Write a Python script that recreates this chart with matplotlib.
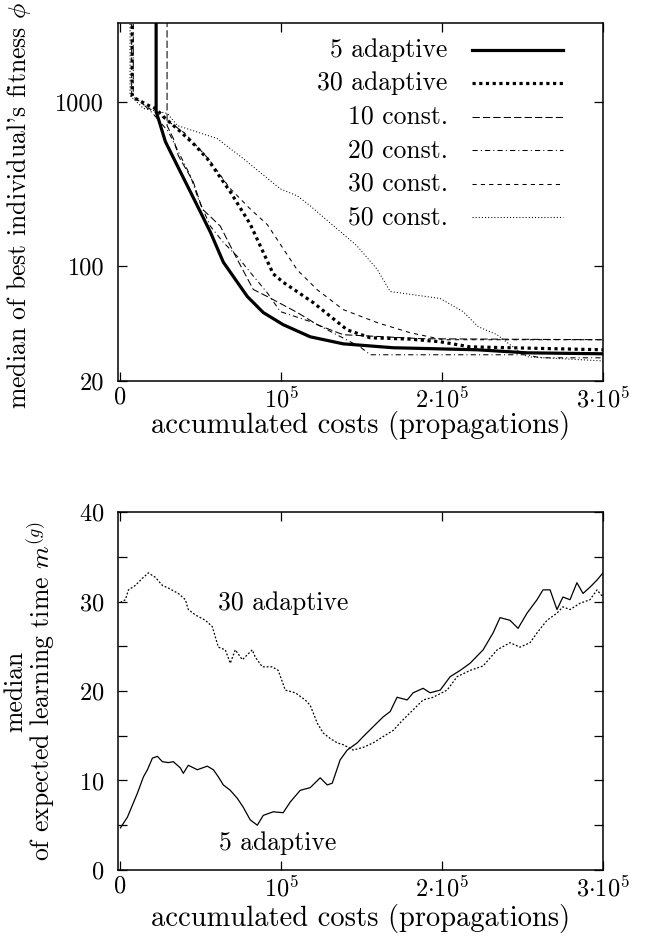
import numpy as np
import matplotlib
matplotlib.use("Agg")
import matplotlib.pyplot as plt
from matplotlib.ticker import FixedLocator, MultipleLocator, NullFormatter

plt.rcParams["font.family"] = "serif"
plt.rcParams["font.serif"] = ["cmr10"]
plt.rcParams["mathtext.fontset"] = "cm"
plt.rcParams["axes.unicode_minus"] = False
plt.rcParams["axes.formatter.use_mathtext"] = True

# --- datos: fitness (panel superior, eje y log) ---
fit_5ad_x = [22200, 22200, 27950, 35400, 43500, 49700, 55900, 64000, 74500, 78900,
             88800, 101200, 118000, 138500, 169600, 221700, 252800, 300000]
fit_5ad_y = [1e4, 881, 577, 411, 285, 215, 162, 106, 75.5, 65.5,
             52.3, 44.1, 37.2, 33.7, 31.9, 31.0, 29.7, 29.3]

fit_30ad_x = [7300, 7300, 9300, 17400, 21700, 27950, 37300, 46600, 54000, 68300, 80700,
              95000, 101200, 110000, 120000, 141000, 155300, 180000, 198800, 217400, 300000]
fit_30ad_y = [1e4, 1105, 1059, 959, 920, 798, 664, 545, 454, 285, 181,
              90, 80, 70, 60, 41, 36.7, 36, 34.7, 32.3, 31.0]

fit_10c_x = [29000, 29000, 33000, 36000, 45300, 50900, 62100, 72700, 82600, 91300,
             110000, 122400, 138500, 188200, 300000]
fit_10c_y = [1e4, 723, 600, 473, 328, 224, 176, 110, 72.3, 65.5,
             52.3, 44.1, 38.3, 36.2, 35.7]

fit_20c_x = [8000, 8000, 13000, 20000, 29800, 36000, 43500, 48400, 55900, 64000, 72700,
             80700, 91300, 99400, 120000, 149000, 155300, 252800, 260900, 300000]
fit_20c_y = [1e4, 1080, 1000, 860, 664, 501, 357, 258, 176, 140, 115,
             92, 69, 53, 45.4, 32.3, 28.9, 28.9, 27.7, 27.7]

fit_30c_x = [7000, 7000, 15000, 24800, 40000, 55000, 68000, 80700, 91300, 110000,
             122400, 138500, 159600, 180100, 200600, 300000]
fit_30c_y = [1e4, 1105, 960, 830, 650, 450, 300, 224, 180, 95,
             72, 54.5, 45.4, 39.4, 35.7, 35.7]

fit_50c_x = [6000, 6000, 14300, 29200, 35400, 60200, 76400, 99400, 110000, 118000,
             147200, 159600, 167700, 198800, 213000, 222400, 234200, 242200, 252800, 300000]
fit_50c_y = [1e4, 1100, 920, 857, 723, 602, 454, 297, 269, 234,
             133, 96, 70.3, 63.7, 53, 42.9, 38.3, 33.3, 28.1, 26.5]

# --- datos: tiempo de aprendizaje (panel inferior) ---
lt_5ad_x = [0, 4350, 10600, 14300, 16800, 19900, 23000, 26100, 29800, 32900, 37300, 39100,
            42200, 47800, 54000, 57800, 60900, 64000, 68300, 72700, 76400, 80700, 85100,
            88800, 95000, 101200, 105600, 111800, 118000, 124200, 128600, 131700, 136600,
            141000, 147200, 150900, 157100, 163300, 167700, 172000, 178300, 182000, 188200,
            192500, 198800, 205000, 211200, 217400, 221700, 225500, 231700, 236000, 242200,
            247200, 252800, 259000, 262700, 267100, 271400, 275100, 279500, 283800, 287600,
            291900, 296300, 300000]
lt_5ad_y = [4.7, 5.9, 8.6, 10.4, 11.2, 12.5, 12.7, 12.1, 12.0, 12.1, 11.4, 10.8,
            11.7, 11.2, 11.6, 11.2, 10.4, 9.5, 8.9, 8.0, 7.0, 5.6, 5.0,
            6.1, 6.5, 6.4, 7.6, 8.9, 9.2, 10.3, 9.5, 9.7, 12.3,
            13.4, 14.2, 14.9, 16.0, 17.1, 17.7, 19.3, 19.0, 19.8, 20.3,
            19.8, 20.1, 21.6, 22.3, 23.1, 23.9, 24.6, 26.5, 28.2, 27.9,
            27.0, 28.7, 30.2, 31.3, 31.3, 29.1, 30.5, 30.2, 32.1, 30.9,
            31.6, 32.4, 33.2]

lt_30ad_x = [0, 3100, 5000, 9300, 13700, 17400, 21700, 26100, 29800, 36000, 40400, 42200,
             46600, 52800, 57100, 60900, 65200, 68300, 71400, 75800, 82000, 83800, 88200,
             94400, 98100, 102500, 108700, 114900, 118000, 122400, 126100, 130400, 134800,
             138500, 144700, 150900, 157100, 163300, 169600, 175800, 182000, 188200, 194400,
             203100, 209300, 217400, 225500, 234200, 242200, 248400, 254700, 259000, 265200,
             271400, 275100, 279500, 285700, 291900, 296300, 300000]
lt_30ad_y = [29.9, 30.2, 31.3, 31.8, 32.6, 33.2, 32.7, 31.8, 31.5, 30.9, 30.2, 29.1,
             28.5, 27.9, 27.2, 24.9, 24.6, 23.1, 24.6, 23.5, 24.6, 23.8, 22.7,
             22.7, 22.3, 20.1, 19.8, 19.0, 18.4, 16.4, 15.3, 14.7, 14.2,
             14.0, 13.4, 13.7, 14.2, 14.9, 15.6, 16.8, 17.9, 19.0, 19.3,
             20.1, 21.6, 22.3, 22.8, 24.6, 25.4, 24.9, 25.4, 26.5, 27.9,
             28.7, 29.4, 29.1, 29.8, 30.2, 31.3, 30.5]

x_ticks = [0, 1e5, 2e5, 3e5]
x_ticklabels = ["0", r"$10^5$", r"$2{\cdot}10^5$", r"$3{\cdot}10^5$"]
fit_yticks = [20, 100, 1000]
lt_yticks = [0, 10, 20, 30, 40]

FS = 18.5   # textos
FX = 20.5   # etiqueta eje x
FT = 17.5   # etiquetas de ticks

fig = plt.figure(figsize=(6.53, 9.40), dpi=100)
ax1 = fig.add_axes([0.1807, 0.5947, 0.7427, 0.3808])
ax2 = fig.add_axes([0.1807, 0.0745, 0.7427, 0.3808])

for ax in (ax1, ax2):
    for sp in ax.spines.values():
        sp.set_linewidth(1.1)
    ax.tick_params(which="both", direction="in", top=True, right=True,
                   length=6.5, width=0.9, labelsize=FT)
    ax.tick_params(axis="x", pad=4)
    ax.tick_params(axis="y", pad=10)
    ax.set_xlim(-1500, 3e5)
    ax.set_xticks(x_ticks)
    ax.set_xticklabels(x_ticklabels)
    ax.set_xlabel("accumulated costs (propagations)", fontsize=FX)

ax1.xaxis.set_label_coords(0.5, -0.085)
ax2.xaxis.set_label_coords(0.5, -0.095)

# --- panel superior ---
estilos = [
    ("5 adaptive", fit_5ad_x, fit_5ad_y, dict(lw=2.3, ls="-")),
    ("30 adaptive", fit_30ad_x, fit_30ad_y, dict(lw=2.3, ls=(0, (1, 1.1)))),
    ("10 const.", fit_10c_x, fit_10c_y, dict(lw=0.75, ls=(0, (7, 3)))),
    ("20 const.", fit_20c_x, fit_20c_y, dict(lw=0.75, ls=(0, (5, 3, 1, 3)))),
    ("30 const.", fit_30c_x, fit_30c_y, dict(lw=0.75, ls=(0, (4, 4)))),
    ("50 const.", fit_50c_x, fit_50c_y, dict(lw=0.75, ls=(0, (1, 2)))),
]
for i, (lab, xs, ys, st) in enumerate(estilos):
    ax1.plot(xs, ys, color="black", dash_capstyle="butt", **st)
    # leyenda estilo gnuplot: texto alineado a la derecha, muestra a la derecha
    yl = 0.925 - i * 0.0936
    ax1.text(0.68, yl, lab, transform=ax1.transAxes, ha="right", va="center", fontsize=FS)
    ax1.plot([0.73, 0.918], [yl, yl], transform=ax1.transAxes, color="black",
             dash_capstyle="butt", **st)

ax1.set_yscale("log")
ax1.set_ylim(20, 3050)
ax1.yaxis.set_major_locator(FixedLocator(fit_yticks))
ax1.yaxis.set_minor_locator(FixedLocator([]))
ax1.set_yticklabels([str(v) for v in fit_yticks])
ax1.yaxis.set_minor_formatter(NullFormatter())
ax1.set_ylabel(r"median of best individual's fitness $\phi$", fontsize=FS)
ax1.yaxis.set_label_coords(-0.175, 0.49)

# --- panel inferior ---
ax2.plot(lt_5ad_x, lt_5ad_y, color="black", lw=0.9)
ax2.plot(lt_30ad_x, lt_30ad_y, color="black", lw=0.9, ls=(0, (1.5, 1.5)))
ax2.set_ylim(0, 40)
ax2.set_yticks(lt_yticks)
ax2.yaxis.set_minor_locator(MultipleLocator(5))
ax2.set_ylabel("median\n" + r"of expected learning time $m^{(g)}$", fontsize=FS,
               linespacing=0.9)
ax2.yaxis.set_label_coords(-0.125, 0.5)
ax2.text(101000, 29.8, "30 adaptive", fontsize=FS, ha="center", va="center")
ax2.text(97500, 3.0, "5 adaptive", fontsize=FS, ha="center", va="center")

fig.savefig("out.png", dpi=100)
